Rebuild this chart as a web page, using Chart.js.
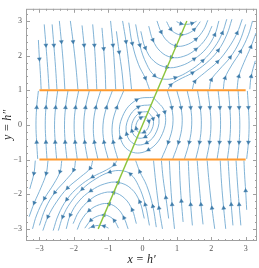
<!DOCTYPE html>
<html>
<head>
<meta charset="utf-8">
<script src="https://cdn.jsdelivr.net/npm/chart.js@4.4.0/dist/chart.umd.min.js"></script>
<style>
  html, body { margin: 0; padding: 0; background: #fff; }
</style>
</head>
<body>
<canvas id="graphe" width="259" height="268"></canvas>
<script>
// ******************** valeurs ********************
var xTicks = [-3, -2, -1, 0, 1, 2, 3];
var yTicks = [-3, -2, -1, 0, 1, 2, 3];

// lignes orange y = 1 et y = -1, ligne verte
var orangeHaut = [[-3, 1], [3, 1]];
var orangeBas = [[-3, -1], [3, -1]];
var ligneVerte = [[-1.29, -3], [1.29, 3]];

// lignes de courant, points dans le sens du flot
// en haut a gauche (descendent vers y = 1)
var hautGauche = [
    [[-3.03, 2.45], [-3.0, 1.9], [-2.97, 1.45], [-2.95, 1.03]],
    [[-2.86, 2.9], [-2.81, 2.3], [-2.76, 1.65], [-2.72, 1.03]],
    [[-2.63, 2.9], [-2.58, 2.3], [-2.53, 1.65], [-2.49, 1.03]],
    [[-2.42, 3.0], [-2.36, 2.4], [-2.30, 1.7], [-2.26, 1.03]],
    [[-2.10, 3.0], [-2.02, 2.4], [-1.94, 1.7], [-1.88, 1.03]],
    [[-1.76, 2.87], [-1.70, 2.3], [-1.64, 1.65], [-1.59, 1.03]],
    [[-1.45, 2.9], [-1.40, 2.3], [-1.36, 1.65], [-1.33, 1.03]],
    [[-1.18, 2.8], [-1.13, 2.2], [-1.09, 1.6], [-1.07, 1.03]],
    [[-0.93, 3.0], [-0.86, 2.3], [-0.81, 1.6], [-0.78, 1.03]],
    [[-0.76, 2.7], [-0.68, 2.1], [-0.60, 1.55], [-0.55, 1.03]],
    [[-0.58, 3.0], [-0.48, 2.4], [-0.39, 1.7], [-0.32, 1.03]],
    [[-0.4, 2.95], [-0.3, 2.35], [-0.12, 1.75], [0.08, 1.35], [0.2, 1.03]]
];

// en bas a droite (montent vers y = -1)
var basDroite = [
    [[3.03, -2.45], [3.0, -1.9], [2.97, -1.45], [2.95, -1.03]],
    [[2.86, -2.9], [2.81, -2.3], [2.76, -1.65], [2.72, -1.03]],
    [[2.63, -2.9], [2.58, -2.3], [2.53, -1.65], [2.49, -1.03]],
    [[2.42, -3.0], [2.36, -2.4], [2.30, -1.7], [2.26, -1.03]],
    [[2.10, -3.0], [2.02, -2.4], [1.94, -1.7], [1.88, -1.03]],
    [[1.76, -2.87], [1.70, -2.3], [1.64, -1.65], [1.59, -1.03]],
    [[1.45, -2.9], [1.40, -2.3], [1.36, -1.65], [1.33, -1.03]],
    [[1.18, -2.8], [1.13, -2.2], [1.09, -1.6], [1.07, -1.03]],
    [[0.93, -3.0], [0.86, -2.3], [0.81, -1.6], [0.78, -1.03]],
    [[0.76, -2.7], [0.68, -2.1], [0.60, -1.55], [0.55, -1.03]],
    [[0.58, -3.0], [0.48, -2.4], [0.39, -1.7], [0.32, -1.03]],
    [[0.4, -2.95], [0.3, -2.35], [0.12, -1.75], [-0.08, -1.35], [-0.2, -1.03]]
];

// arcs en U autour de la ligne verte (haut)
var arcsHaut = [
    [[0.99, 2.98], [1.12, 2.92], [1.28, 2.9], [1.44, 2.93], [1.57, 2.99]],
    [[0.7, 2.98], [0.82, 2.76], [0.97, 2.64], [1.12, 2.6], [1.3, 2.63], [1.5, 2.75], [1.68, 2.98]],
    [[0.42, 3.0], [0.54, 2.68], [0.72, 2.42], [0.97, 2.28], [1.25, 2.3], [1.55, 2.47], [1.78, 2.75], [1.9, 3.02]],
    [[0.18, 2.85], [0.3, 2.45], [0.52, 2.12], [0.84, 1.95], [1.2, 1.98], [1.55, 2.18], [1.85, 2.5], [2.02, 2.85]],
    [[-0.05, 2.7], [0.08, 2.22], [0.33, 1.84], [0.71, 1.66], [1.1, 1.7], [1.5, 1.9], [1.85, 2.2], [2.1, 2.6], [2.22, 3.0]],
    [[-0.2, 2.9], [-0.08, 2.3], [0.12, 1.75], [0.35, 1.42], [0.62, 1.32], [0.95, 1.36], [1.35, 1.55], [1.75, 1.85], [2.1, 2.25], [2.32, 2.65], [2.45, 3.05]]
];

// arcs en U renverses (bas)
var arcsBas = [
    [[-0.99, -2.98], [-1.12, -2.92], [-1.28, -2.9], [-1.44, -2.93], [-1.57, -2.99]],
    [[-0.7, -2.98], [-0.82, -2.76], [-0.97, -2.64], [-1.12, -2.6], [-1.3, -2.63], [-1.5, -2.75], [-1.68, -2.98]],
    [[-0.42, -3.0], [-0.54, -2.68], [-0.72, -2.42], [-0.97, -2.28], [-1.25, -2.3], [-1.55, -2.47], [-1.78, -2.75], [-1.9, -3.02]],
    [[-0.18, -2.85], [-0.3, -2.45], [-0.52, -2.12], [-0.84, -1.95], [-1.2, -1.98], [-1.55, -2.18], [-1.85, -2.5], [-2.02, -2.85]],
    [[0.05, -2.7], [-0.08, -2.22], [-0.33, -1.84], [-0.71, -1.66], [-1.1, -1.7], [-1.5, -1.9], [-1.85, -2.2], [-2.1, -2.6], [-2.22, -3.0]],
    [[0.2, -2.9], [0.08, -2.3], [-0.12, -1.75], [-0.35, -1.42], [-0.62, -1.32], [-0.95, -1.36], [-1.35, -1.55], [-1.75, -1.85], [-2.1, -2.25], [-2.32, -2.65], [-2.45, -3.05]]
];

// en haut a droite (partent de y = 1 et montent)
var hautDroite = [
    [[0.75, 1.03], [0.82, 1.15], [1.05, 1.3], [1.45, 1.5], [1.85, 1.78], [2.2, 2.15], [2.45, 2.6], [2.6, 3.05]],
    [[1.45, 1.03], [1.52, 1.25], [1.8, 1.5], [2.18, 1.82], [2.5, 2.22], [2.75, 2.65], [2.9, 3.05]],
    [[1.95, 1.03], [2.0, 1.3], [2.22, 1.58], [2.55, 1.95], [2.82, 2.4], [3.0, 2.9]],
    [[2.35, 1.03], [2.4, 1.35], [2.58, 1.7], [2.85, 2.12], [3.08, 2.6], [3.2, 3.0]],
    [[2.75, 1.03], [2.8, 1.4], [2.95, 1.8], [3.15, 2.25], [3.3, 2.65]],
    [[3.12, 1.03], [3.16, 1.4], [3.28, 1.85]]
];

// en bas a gauche (partent de y = -1 et descendent)
var basGauche = [
    [[-0.75, -1.03], [-0.82, -1.15], [-1.05, -1.3], [-1.45, -1.5], [-1.85, -1.78], [-2.2, -2.15], [-2.45, -2.6], [-2.6, -3.05]],
    [[-1.45, -1.03], [-1.52, -1.25], [-1.8, -1.5], [-2.18, -1.82], [-2.5, -2.22], [-2.75, -2.65], [-2.9, -3.05]],
    [[-1.95, -1.03], [-2.0, -1.3], [-2.22, -1.58], [-2.55, -1.95], [-2.82, -2.4], [-3.0, -2.9]],
    [[-2.35, -1.03], [-2.4, -1.35], [-2.58, -1.7], [-2.85, -2.12], [-3.08, -2.6], [-3.2, -3.0]],
    [[-2.75, -1.03], [-2.8, -1.4], [-2.95, -1.8], [-3.15, -2.25], [-3.3, -2.65]],
    [[-3.12, -1.03], [-3.16, -1.4], [-3.28, -1.85]]
];

// bande du milieu, cote droit (descendent)
var milieuDroite = [
    [[0.72, 0.98], [0.85, 0.5], [0.88, 0.0], [0.75, -0.5], [0.55, -0.98]],
    [[1.0, 0.98], [1.12, 0.5], [1.15, 0.0], [1.05, -0.5], [0.88, -0.98]],
    [[1.3, 0.98], [1.40, 0.5], [1.43, 0.0], [1.36, -0.5], [1.22, -0.98]],
    [[1.6, 0.98], [1.68, 0.5], [1.71, 0.0], [1.66, -0.5], [1.55, -0.98]],
    [[1.9, 0.98], [1.96, 0.5], [1.99, 0.0], [1.95, -0.5], [1.86, -0.98]],
    [[2.2, 0.98], [2.25, 0.5], [2.27, 0.0], [2.24, -0.5], [2.17, -0.98]],
    [[2.5, 0.98], [2.54, 0.5], [2.56, 0.0], [2.53, -0.5], [2.47, -0.98]],
    [[2.78, 0.98], [2.81, 0.5], [2.83, 0.0], [2.81, -0.5], [2.76, -0.98]],
    [[3.05, 0.98], [3.08, 0.5], [3.1, 0.0], [3.08, -0.5], [3.03, -0.98]]
];

// bande du milieu, cote gauche (montent)
var milieuGauche = [
    [[-0.72, -0.98], [-0.85, -0.5], [-0.88, 0.0], [-0.75, 0.5], [-0.55, 0.98]],
    [[-1.0, -0.98], [-1.12, -0.5], [-1.15, 0.0], [-1.05, 0.5], [-0.88, 0.98]],
    [[-1.3, -0.98], [-1.40, -0.5], [-1.43, 0.0], [-1.36, 0.5], [-1.22, 0.98]],
    [[-1.6, -0.98], [-1.68, -0.5], [-1.71, 0.0], [-1.66, 0.5], [-1.55, 0.98]],
    [[-1.9, -0.98], [-1.96, -0.5], [-1.99, 0.0], [-1.95, 0.5], [-1.86, 0.98]],
    [[-2.2, -0.98], [-2.25, -0.5], [-2.27, 0.0], [-2.24, 0.5], [-2.17, 0.98]],
    [[-2.5, -0.98], [-2.54, -0.5], [-2.56, 0.0], [-2.53, 0.5], [-2.47, 0.98]],
    [[-2.78, -0.98], [-2.81, -0.5], [-2.83, 0.0], [-2.81, 0.5], [-2.76, 0.98]],
    [[-3.05, -0.98], [-3.08, -0.5], [-3.1, 0.0], [-3.08, 0.5], [-3.03, 0.98]]
];

// boucles autour de l'origine (sens horaire)
var boucles = [
    [[0.095, 0.221], [0.184, 0.106], [0.166, -0.071], [0.050, -0.206], [-0.095, -0.221], [-0.184, -0.106], [-0.166, 0.071], [-0.050, 0.206], [0.10, 0.24]],
    [[0.158, 0.368], [0.307, 0.176], [0.276, -0.119], [0.083, -0.344], [-0.158, -0.368], [-0.307, -0.176], [-0.276, 0.119], [-0.083, 0.344], [0.165, 0.385]],
    [[0.237, 0.552], [0.461, 0.264], [0.414, -0.179], [0.125, -0.516], [-0.237, -0.552], [-0.461, -0.264], [-0.414, 0.179], [-0.125, 0.516], [0.25, 0.58]],
    [[0.332, 0.773], [0.645, 0.370], [0.580, -0.250], [0.174, -0.722], [-0.332, -0.773], [-0.645, -0.370], [-0.580, 0.250], [-0.174, 0.722], [0.34, 0.80]]
];

// ******************** styles ********************
var bleuLigne = "#6aa5cf";
var bleuFleche = "#3f7caa";
var orange = "#ff9a2e";
var vert = "#8cc43c";

// angle de la fleche (en degres) d'apres les points voisins, en pixels
function angleFleche(chart, pts, i) {
    var sx = chart.scales.x, sy = chart.scales.y;
    var a = pts[Math.max(i - 1, 0)], b = pts[Math.min(i + 1, pts.length - 1)];
    var dx = sx.getPixelForValue(b[0]) - sx.getPixelForValue(a[0]);
    var dy = sy.getPixelForValue(b[1]) - sy.getPixelForValue(a[1]);
    return Math.atan2(dx, -dy) * 180 / Math.PI;
}

function ligneCourant(pts) {
    return {
        data: pts.map(p => ({ x: p[0], y: p[1] })),
        showLine: true,
        borderColor: bleuLigne,
        borderWidth: 0.85,
        tension: 0.4,
        pointStyle: "triangle",
        pointBackgroundColor: bleuFleche,
        pointBorderColor: bleuFleche,
        pointBorderWidth: 0.4,
        pointRadius: ctx => (ctx.dataIndex % 2 === 1 && ctx.dataIndex < pts.length - 1) ? 2.3 : 0,
        pointRotation: ctx => angleFleche(ctx.chart, pts, ctx.dataIndex)
    };
}

function ligneSimple(pts, couleur, largeur) {
    return {
        data: pts.map(p => ({ x: p[0], y: p[1] })),
        showLine: true,
        borderColor: couleur,
        borderWidth: largeur,
        pointRadius: 0
    };
}

// les premiers jeux sont dessines par-dessus
var jeux = [
    ligneSimple(ligneVerte, vert, 1.4),
    ligneSimple(orangeHaut, orange, 2),
    ligneSimple(orangeBas, orange, 2)
];
[hautGauche, basDroite, arcsHaut, arcsBas, hautDroite, basGauche, milieuDroite, milieuGauche, boucles]
    .forEach(groupe => groupe.forEach(l => jeux.push(ligneCourant(l))));

// ******************** cadre et graduations ********************
var cadre = {
    id: "cadre",
    afterDraw(chart) {
        var ctx = chart.ctx, a = chart.chartArea;
        var sx = chart.scales.x, sy = chart.scales.y;
        ctx.save();
        ctx.strokeStyle = "#a0a0a0";
        ctx.lineWidth = 1;
        ctx.strokeRect(a.left + 0.5, a.top + 0.5, a.right - a.left - 1, a.bottom - a.top - 1);
        ctx.beginPath();
        for (var k = -16; k <= 16; k++) {
            var v = k / 5;
            var long = (k % 5 === 0) ? 4 : 2;
            var px = Math.round(sx.getPixelForValue(v)) + 0.5;
            if (px > a.left + 1 && px < a.right - 1) {
                ctx.moveTo(px, a.bottom); ctx.lineTo(px, a.bottom - long);
                ctx.moveTo(px, a.top); ctx.lineTo(px, a.top + long);
            }
            var py = Math.round(sy.getPixelForValue(v)) + 0.5;
            if (py > a.top + 1 && py < a.bottom - 1) {
                ctx.moveTo(a.left, py); ctx.lineTo(a.left + long, py);
                ctx.moveTo(a.right, py); ctx.lineTo(a.right - long, py);
            }
        }
        ctx.stroke();
        ctx.restore();
    }
};

function texteGraduation(v) {
    return v < 0 ? "\u2212" + Math.abs(v) : String(v);
}

var policeTicks = { family: "Liberation Serif", size: 8 };
var policeTitre = { family: "Liberation Serif", size: 12, style: "italic" };

new Chart(document.getElementById("graphe"), {
    type: "scatter",
    data: { datasets: jeux },
    options: {
        responsive: false,
        animation: false,
        devicePixelRatio: 1,
        events: [],
        layout: { padding: { top: 8, right: 2, left: 0, bottom: 0 } },
        plugins: { legend: { display: false }, tooltip: { enabled: false } },
        scales: {
            x: {
                type: "linear", min: -3.39, max: 3.33,
                grid: { display: false, drawTicks: false },
                border: { display: false },
                afterBuildTicks: s => { s.ticks = xTicks.map(v => ({ value: v })); },
                afterFit: s => { s.height = 27; },
                ticks: { padding: 3, color: "#555", font: policeTicks, maxRotation: 0, callback: texteGraduation },
                title: { display: true, text: "x = h\u2032", color: "#222", font: policeTitre, padding: { top: 0, bottom: 1 } }
            },
            y: {
                type: "linear", min: -3.35, max: 3.35,
                grid: { display: false, drawTicks: false },
                border: { display: false },
                afterBuildTicks: s => { s.ticks = yTicks.map(v => ({ value: v })); },
                afterFit: s => { s.width = 26; },
                ticks: { padding: 4, color: "#555", font: policeTicks, callback: texteGraduation },
                title: { display: true, text: "y = h\u2033", color: "#222", font: policeTitre, padding: { top: 1, bottom: 0 } }
            }
        }
    },
    plugins: [cadre]
});
</script>
</body>
</html>
